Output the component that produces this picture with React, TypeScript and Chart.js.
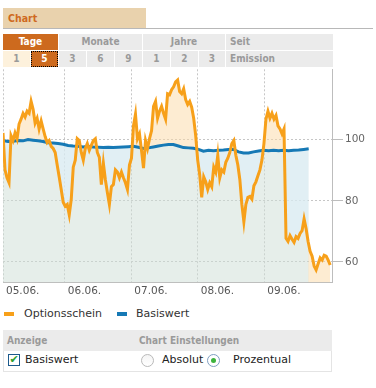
import React, { useEffect, useRef } from 'react';
import { Chart, registerables } from 'chart.js';

Chart.register(...registerables);

// ---- data ----
const DAY_LABELS = ['05.06.', '06.06.', '07.06.', '08.06.', '09.06.'];
const Y_TICKS = [60, 80, 100];
const Y_MIN = 53.3;
const Y_MAX = 123;
const SERIES_NAMES = ['Optionsschein', 'Basiswert'];
const X_START = 0.07; // in days from 05.06.
const X_END = 5.02;
const ORANGE_STEP = 0.0302; // days between samples
const BLUE_STEP = 0.0754;

const ORANGE = [
  102.2, 90.1, 87.5, 85.9, 101.3, 99.7, 102.2, 100.3, 105.1, 106.7,
  108.6, 107.4, 109.3, 108.6, 112.5, 109.9, 105.4, 107.0, 103.5, 106.1,
  103.5, 101.0, 99.0, 99.7, 97.8, 97.1, 95.8, 91.7, 87.8, 83.7,
  79.5, 78.2, 78.8, 75.4, 80.5, 91.0, 93.3, 100.3, 99.7, 95.8,
  93.3, 97.1, 98.7, 96.5, 98.1, 99.7, 100.3, 95.8, 94.2, 85.3,
  92.3, 86.9, 82.7, 78.8, 84.6, 85.3, 90.1, 89.4, 87.5, 89.4,
  87.5, 85.9, 83.7, 91.7, 93.9, 104.5, 108.3, 100.3, 101.9, 96.5,
  90.7, 99.7, 97.1, 100.3, 102.9, 110.9, 112.5, 107.0, 109.3, 110.9,
  108.6, 106.7, 115.0, 114.7, 116.3, 117.3, 118.9, 119.5, 115.7, 115.0,
  116.6, 113.1, 111.5, 112.5, 110.6, 107.0, 101.3, 93.3, 88.5, 81.1,
  87.8, 86.2, 83.7, 85.9, 84.6, 91.0, 89.4, 94.9, 87.5, 90.1,
  89.4, 92.6, 93.9, 95.8, 98.7, 99.7, 94.9, 91.7, 86.9, 78.8,
  73.1, 78.8, 81.1, 81.4, 80.5, 84.9, 86.2, 88.2, 90.1, 93.3,
  98.7, 106.7, 109.3, 107.0, 108.6, 106.7, 107.9, 104.5, 103.5, 101.9,
  103.5, 67.7, 66.7, 68.6, 67.4, 66.4, 68.3, 67.7, 69.3, 70.2,
  74.1, 70.9, 66.7, 63.5, 61.9, 58.7, 57.4, 59.4, 61.3, 60.6,
  62.2, 61.9, 60.6, 59.0,
];

const BLUE = [
  99.7, 99.4, 99.5, 99.7, 99.6, 100.0, 99.8, 99.6, 99.4, 99.0,
  98.9, 98.7, 98.5, 98.1, 97.9, 97.8, 97.6, 97.8, 97.6, 97.5,
  97.4, 97.5, 97.4, 97.5, 97.6, 97.7, 97.8, 97.5, 97.1, 97.3,
  97.6, 97.9, 98.2, 98.4, 98.4, 97.9, 97.4, 97.3, 97.2, 96.8,
  96.2, 96.5, 96.4, 96.5, 96.6, 96.8, 96.8, 96.0, 95.6, 95.6,
  96.0, 96.3, 96.5, 96.4, 96.5, 96.4, 96.5, 96.4, 96.5, 96.6,
  96.8, 97.0,
];

const ORANGE_COLOR = '#f7a01a';
const BLUE_COLOR = '#1679b5';
const FILL_ORANGE = 'rgba(251,217,165,0.5)';
const FILL_BLUE = 'rgba(222,242,255,0.5)';
const FILL_BOTH = 'rgba(205,221,213,0.5)';

const TAB_GROUPS = ['Tage', 'Monate', 'Jahre', 'Seit'];
const PERIODS = ['1', '5', '3', '6', '9', '1', '2', '3', 'Emission'];

const FONT = "'DejaVu Sans', Verdana, sans-serif";
const BOLD = "'DejaVu Sans Condensed', 'DejaVu Sans', sans-serif";

type Cell = { text: string; l: number; w: number; bg: string; color: string; align?: 'left'; dotted?: boolean };

function TabCell({ c, top }: { c: Cell; top: number }) {
  return (
    <div
      style={{
        position: 'absolute', left: c.l, top, width: c.w, height: 16, background: c.bg, color: c.color,
        fontFamily: BOLD, fontStretch: 'condensed', fontWeight: 'bold', fontSize: 10, lineHeight: '16px',
        textAlign: c.align || 'center', paddingLeft: c.align ? 4 : 0, boxSizing: 'border-box',
        outline: c.dotted ? '1px dotted #000' : undefined, outlineOffset: -1,
      }}
    >
      {c.text}
    </div>
  );
}

export default function App() {
  const ref = useRef<HTMLCanvasElement>(null);

  useEffect(() => {
    const orangePts = ORANGE.map((v, i) => ({ x: X_START + i * ORANGE_STEP, y: v }));
    const bluePts = BLUE.map((v, i) => ({ x: X_START + i * BLUE_STEP, y: v }));
    const blueEnd = X_START + (BLUE.length - 1) * BLUE_STEP;
    const tailPts = orangePts.map((p) => ({ x: p.x, y: p.x >= blueEnd - ORANGE_STEP ? p.y : null }));
    const dayTicks = DAY_LABELS.map((_, i) => Math.max(i, X_START));
    const tickFont = { family: FONT, size: 10.5 };

    const chart = new Chart(ref.current as HTMLCanvasElement, {
      type: 'line',
      data: {
        datasets: [
          {
            label: SERIES_NAMES[0], data: orangePts, borderColor: ORANGE_COLOR, borderWidth: 3,
            pointRadius: 0, tension: 0, fill: { target: 1, above: FILL_ORANGE, below: FILL_BLUE },
          },
          {
            label: SERIES_NAMES[1], data: bluePts, borderColor: BLUE_COLOR, borderWidth: 3,
            pointRadius: 0, tension: 0, fill: 'start', backgroundColor: FILL_BOTH,
          },
          {
            label: '', data: tailPts as any, borderColor: 'rgba(0,0,0,0)', borderWidth: 0,
            pointRadius: 0, tension: 0, fill: 'start', backgroundColor: FILL_ORANGE, spanGaps: false,
          },
        ],
      },
      options: {
        animation: false,
        responsive: true,
        maintainAspectRatio: false,
        events: [],
        layout: { padding: { left: 0, right: 0, top: 0, bottom: 0 } },
        plugins: {
          legend: { display: false },
          tooltip: { enabled: false },
          filler: { drawTime: 'beforeDatasetsDraw' },
        },
        scales: {
          x: {
            type: 'linear', min: X_START, max: X_END,
            afterBuildTicks: (s: any) => { s.ticks = dayTicks.map((v) => ({ value: v })); },
            grid: { color: '#c6c6c6', drawTicks: false, lineWidth: 1 },
            border: { color: '#bdbdbd', dash: [2, 2], width: 1 },
            ticks: {
              align: 'start', labelOffset: 3, padding: 3, autoSkip: false, maxRotation: 0,
              color: '#555', font: tickFont,
              callback: (v: any) => DAY_LABELS[Math.floor(Number(v) + 1e-6)] ?? '',
            },
          },
          y: {
            position: 'right', min: Y_MIN, max: Y_MAX,
            afterBuildTicks: (s: any) => { s.ticks = Y_TICKS.map((v) => ({ value: v })); },
            afterFit: (s: any) => { s.width = 44; },
            grid: { color: '#c6c6c6', tickLength: 11, tickColor: '#bdbdbd', tickBorderDash: [], tickWidth: 1 },
            border: { color: '#bdbdbd', dash: [2, 2], width: 1 },
            ticks: { padding: 2, color: '#666', font: tickFont },
          },
        },
      } as any,
    });
    return () => chart.destroy();
  }, []);

  const grey = '#ebebeb';
  const greyText = '#9a9a9a';
  const active = '#cd6a1e';
  const row1: Cell[] = [
    { text: TAB_GROUPS[0], l: 3, w: 55, bg: active, color: '#fff' },
    { text: TAB_GROUPS[1], l: 59, w: 83, bg: grey, color: greyText },
    { text: TAB_GROUPS[2], l: 143, w: 82, bg: grey, color: greyText },
    { text: TAB_GROUPS[3], l: 226, w: 107, bg: grey, color: greyText, align: 'left' },
  ];
  const row2: Cell[] = [
    { text: PERIODS[0], l: 3, w: 27, bg: '#fdf1dc', color: greyText },
    { text: PERIODS[1], l: 31, w: 27, bg: active, color: '#fff', dotted: true },
    { text: PERIODS[2], l: 59, w: 27, bg: grey, color: greyText },
    { text: PERIODS[3], l: 87, w: 27, bg: grey, color: greyText },
    { text: PERIODS[4], l: 115, w: 27, bg: grey, color: greyText },
    { text: PERIODS[5], l: 143, w: 27, bg: grey, color: greyText },
    { text: PERIODS[6], l: 171, w: 27, bg: grey, color: greyText },
    { text: PERIODS[7], l: 199, w: 26, bg: grey, color: greyText },
    { text: PERIODS[8], l: 226, w: 107, bg: grey, color: greyText, align: 'left' },
  ];

  const label11 = { position: 'absolute' as const, fontFamily: FONT, fontSize: 11, color: '#333', lineHeight: '14px', whiteSpace: 'nowrap' as const };

  return (
    <div style={{ position: 'fixed', left: 0, top: 0, width: 376, height: 388, background: '#fff', overflow: 'hidden' }}>
      {/* title */}
      <div style={{ position: 'absolute', left: 3, top: 8, width: 143, height: 20, background: '#e9d2ad' }} />
      <div style={{ position: 'absolute', left: 8, top: 8, height: 20, lineHeight: '20px', fontFamily: BOLD, fontStretch: 'condensed', fontWeight: 'bold', fontSize: 10.5, color: '#cf6a1f' }}>Chart</div>
      <div style={{ position: 'absolute', left: 3, top: 28, width: 370, height: 1, background: '#b8b8b8' }} />

      {row1.map((c, i) => <TabCell key={'a' + i} c={c} top={34} />)}
      {row2.map((c, i) => <TabCell key={'b' + i} c={c} top={51} />)}

      <div style={{ position: 'absolute', left: 0, top: 61, width: 376, height: 240 }}>
        <canvas ref={ref} />
      </div>

      {/* legend */}
      <div style={{ position: 'absolute', left: 4, top: 312, width: 10, height: 4, background: ORANGE_COLOR }} />
      <div style={{ ...label11, left: 24, top: 307 }}>{SERIES_NAMES[0]}</div>
      <div style={{ position: 'absolute', left: 117, top: 312, width: 10, height: 4, background: BLUE_COLOR }} />
      <div style={{ ...label11, left: 136, top: 307 }}>{SERIES_NAMES[1]}</div>

      {/* settings */}
      <div style={{ position: 'absolute', left: 3, top: 330, width: 329, height: 21, background: grey }} />
      <div style={{ position: 'absolute', left: 7, top: 330, lineHeight: '21px', fontFamily: BOLD, fontStretch: 'condensed', fontWeight: 'bold', fontSize: 10, color: greyText }}>Anzeige</div>
      <div style={{ position: 'absolute', left: 139, top: 330, lineHeight: '21px', fontFamily: BOLD, fontStretch: 'condensed', fontWeight: 'bold', fontSize: 10, color: greyText }}>Chart Einstellungen</div>
      <div style={{ position: 'absolute', left: 3, top: 351, width: 329, height: 21, boxSizing: 'border-box', borderLeft: '1px solid #e4e4e4', borderRight: '1px solid #e4e4e4', borderBottom: '1px solid #e4e4e4' }} />

      <div style={{ position: 'absolute', left: 8, top: 354, width: 12, height: 12, boxSizing: 'border-box', border: '1px solid #1c5a8c', background: '#fff', color: '#2ea02e', fontSize: 11, lineHeight: '10px', textAlign: 'center', fontFamily: FONT, fontWeight: 'bold' }}>✔</div>
      <div style={{ ...label11, left: 25, top: 353, color: '#222' }}>Basiswert</div>

      <div style={{ position: 'absolute', left: 141, top: 354, width: 13, height: 13, boxSizing: 'border-box', border: '1px solid #b9b9b9', borderRadius: '50%', background: 'linear-gradient(#f4f4f4, #ffffff)' }} />
      <div style={{ ...label11, left: 162, top: 353, color: '#222' }}>Absolut</div>
      <div style={{ position: 'absolute', left: 207, top: 354, width: 13, height: 13, boxSizing: 'border-box', border: '1px solid #7f9fc2', borderRadius: '50%', background: '#fff' }}>
        <div style={{ position: 'absolute', left: 3, top: 3, width: 5, height: 5, borderRadius: '50%', background: '#3db33d' }} />
      </div>
      <div style={{ ...label11, left: 233, top: 353, color: '#222' }}>Prozentual</div>
    </div>
  );
}
